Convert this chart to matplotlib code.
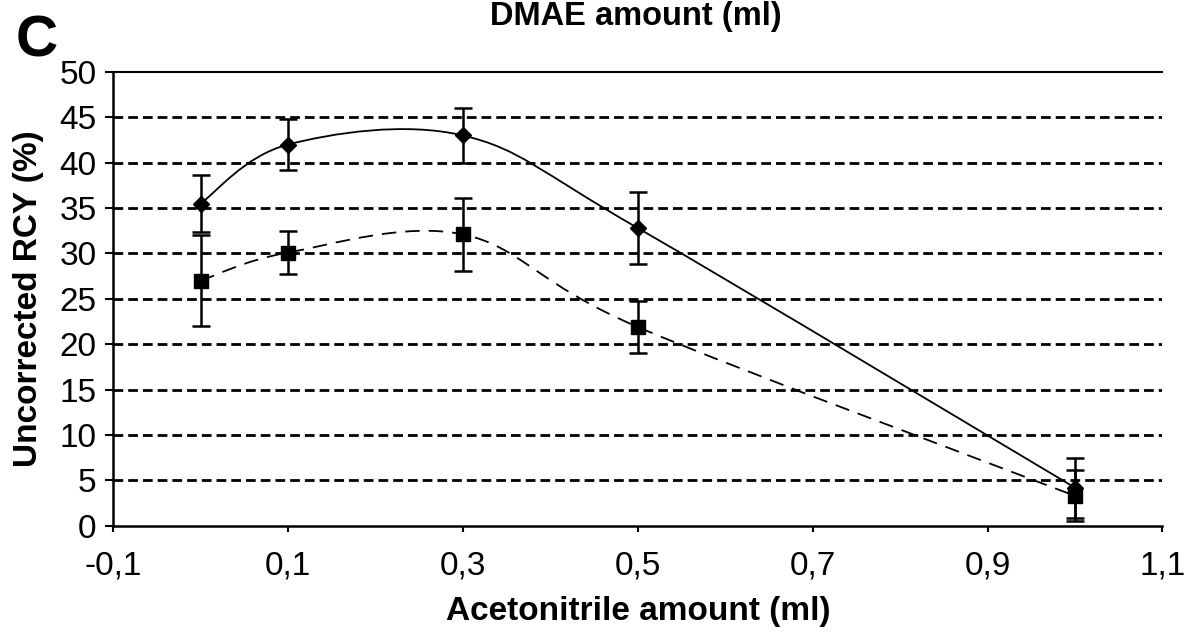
import matplotlib
matplotlib.use('Agg')
from matplotlib import pyplot as plt
from matplotlib.path import Path
from matplotlib.patches import PathPatch

plt.rcParams['font.family'] = ['Liberation Sans', 'DejaVu Sans']

# acetonitrile amounts (ml) and uncorrected radiochemical yields (%)
acn = [0.0, 0.1, 0.3, 0.5, 1.0]
rcy_a = [35.5, 42.0, 43.0, 32.8, 4.2]
err_a = [3.1, 2.8, 3.0, 4.0, 3.3]
rcy_b = [27.0, 30.1, 32.1, 21.9, 3.3]
err_b = [5.0, 2.4, 4.0, 2.9, 2.8]

x_ticks = [-0.1, 0.1, 0.3, 0.5, 0.7, 0.9, 1.1]
y_ticks = list(range(0, 51, 5))


def smooth_path(xs, ys):
    # spreadsheet style smoothed line: cubic bezier between neighbouring points
    pts = list(zip(xs, ys))
    verts = [pts[0]]
    codes = [Path.MOVETO]
    n = len(pts)
    for i in range(n - 1):
        p0 = pts[i - 1] if i > 0 else pts[i]
        p1 = pts[i]
        p2 = pts[i + 1]
        p3 = pts[i + 2] if i + 2 < n else pts[i + 1]
        c1 = (p1[0] + (p2[0] - p0[0]) / 6, p1[1] + (p2[1] - p0[1]) / 6)
        c2 = (p2[0] - (p3[0] - p1[0]) / 6, p2[1] - (p3[1] - p1[1]) / 6)
        verts += [c1, c2, p2]
        codes += [Path.CURVE4] * 3
    return Path(verts, codes)


fig = plt.figure(figsize=(11.91, 6.42), dpi=100)
ax = fig.add_axes([0.095, 0.181, 0.881, 0.707])

ax.add_patch(PathPatch(smooth_path(acn, rcy_a), fill=False, color='black', lw=1.3, zorder=3))
ax.add_patch(PathPatch(smooth_path(acn, rcy_b), fill=False, color='black', lw=1.3,
                       linestyle=(0, (8, 5)), zorder=3))

ax.errorbar(acn, rcy_a, yerr=err_a, fmt='D', color='black', ms=8, capsize=6.5,
            elinewidth=1.8, capthick=1.8, zorder=4)
ax.errorbar(acn, rcy_b, yerr=err_b, fmt='s', color='black', ms=10, capsize=6.5,
            elinewidth=1.8, capthick=1.8, zorder=4)

ax.set_xlim(-0.1, 1.1)
ax.set_ylim(0, 50)
ax.set_xticks(x_ticks)
ax.set_xticklabels([('%.1f' % v).replace('.', ',') for v in x_ticks])
ax.set_yticks(y_ticks)
ax.tick_params(labelsize=24, width=1.5, direction='out')
ax.tick_params(axis='x', length=4, pad=14)
ax.tick_params(axis='y', length=6, pad=6)

for y in y_ticks[1:-1]:
    ax.axhline(y, color='black', lw=2, linestyle=(0, (3.5, 1.8)), zorder=1)

ax.spines['right'].set_visible(False)
ax.spines['top'].set_linewidth(1.5)
for s in ['left', 'bottom']:
    ax.spines[s].set_linewidth(1.8)

ax.set_xlabel('Acetonitrile amount (ml)', fontsize=24, fontweight='bold', labelpad=10)
ax.set_ylabel('Uncorrected RCY (%)', fontsize=24, fontweight='bold', labelpad=11)

fig.text(0.534, 0.998, 'DMAE amount (ml)', ha='center', va='top', fontsize=23.5, fontweight='bold')
fig.text(0.013, 0.978, 'C', ha='left', va='top', fontsize=42, fontweight='bold')

fig.savefig('out.png', dpi=100)
